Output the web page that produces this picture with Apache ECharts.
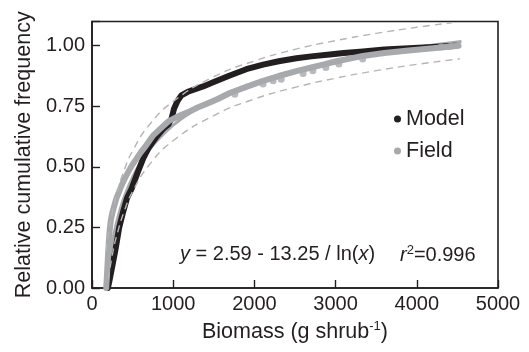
<!DOCTYPE html>
<html>
<head>
<meta charset="utf-8">
<script src="https://cdn.jsdelivr.net/npm/echarts@6/dist/echarts.min.js"></script>
<style>
html,body{margin:0;padding:0;background:#fff;}
#chart{width:529px;height:352px;}
</style>
</head>
<body>
<div id="chart"></div>
<script>
// ---- Data ----
const xTicks = [0, 1000, 2000, 3000, 4000, 5000];
const yTicks = [0, 0.25, 0.5, 0.75, 1.0];

const modelX = [195,215,250,290,335,380,430,488,560,631,700,796,870,940,980,1010,1050,1100,1180,1280,1369,1500,1697,1900,2107,2300,2517,2700,2927,3100,3337,3600,3900,4200,4480];
const modelY = [0,0.03,0.09,0.16,0.25,0.31,0.37,0.41,0.475,0.535,0.58,0.625,0.655,0.675,0.70,0.74,0.77,0.795,0.81,0.822,0.832,0.85,0.877,0.903,0.922,0.936,0.948,0.956,0.964,0.97,0.976,0.984,0.99,0.995,1.0];

const fieldX = [175,182,190,198,207,218,232,250,275,300,324,360,400,440,490,540,600,670,754,850,950,1082,1200,1300,1410,1550,1697,1900,2107,2300,2517,2700,2845,3000,3337,3600,3900,4200,4514];
const fieldY = [0,0.04,0.09,0.14,0.19,0.24,0.28,0.31,0.34,0.37,0.39,0.42,0.45,0.475,0.505,0.53,0.56,0.59,0.63,0.66,0.69,0.712,0.728,0.745,0.76,0.78,0.805,0.83,0.855,0.875,0.895,0.91,0.922,0.935,0.958,0.97,0.98,0.99,1.0];

// scattered field points hanging below the band
const fieldDotX = [1759,2107,2230,2330,2600,2720,2880,3040,3333,4300,4420];
const fieldDotY = [0.80,0.842,0.855,0.862,0.885,0.897,0.91,0.925,0.945,0.995,0.998];

// fitted curve y = 2.59 - 13.25/ln(x)
const fitX = [170,180,190,200,225,250,300,350,400,500,600,700,800,1000,1200,1500,2000,2500,3000,3500,4000,4550];
const fitY = [0.010,0.039,0.065,0.089,0.144,0.190,0.267,0.328,0.379,0.458,0.519,0.567,0.608,0.672,0.721,0.778,0.847,0.897,0.935,0.966,0.993,1.017];

// dashed bounds
const upperX = [175,200,250,300,400,500,700,1000,1500,2000,2500,3000,3500,4000,4430];
const upperY = [0.153,0.214,0.311,0.384,0.490,0.566,0.671,0.770,0.872,0.937,0.985,1.021,1.051,1.076,1.095];
const lowerX = [200,250,300,400,500,700,1000,1500,2000,2500,3000,3500,4000,4530];
const lowerY = [0.036,0.136,0.211,0.320,0.398,0.506,0.608,0.712,0.780,0.828,0.866,0.897,0.923,0.946];

const zip = (xs, ys) => xs.map((x, i) => [x, ys[i]]);

const BLACK = '#231f20';
const GRAY = '#a7a9ac';
const FONT = "'Liberation Sans', Arial, Helvetica, sans-serif";

const chart = echarts.init(document.getElementById('chart'), null, {renderer: 'canvas'});

const option = {
  animation: false,
  textStyle: {fontFamily: FONT, color: BLACK},
  grid: {
    left: 92, right: 31, top: 21.5, bottom: 64,
    show: true, borderColor: BLACK, borderWidth: 1.6, backgroundColor: 'transparent'
  },
  legend: {
    data: ['Model', 'Field'],
    orient: 'vertical',
    left: 389, top: 103,
    icon: 'circle',
    itemWidth: 7, itemHeight: 7,
    itemGap: 10, itemTextGap: 6,
    textStyle: {fontFamily: FONT, fontSize: 21.5, color: BLACK},
    selectedMode: false
  },
  xAxis: {
    type: 'value', min: 0, max: 5000, interval: 1000,
    name: 'Biomass (g shrub{sup|-1})',
    nameLocation: 'middle', nameGap: 32,
    nameTextStyle: {
      fontFamily: FONT, fontSize: 21.5, color: BLACK,
      rich: {
        sup: {fontFamily: FONT, fontSize: 13, color: BLACK, verticalAlign: 'top', lineHeight: 24}
      },
      lineHeight: 24
    },
    axisLine: {lineStyle: {color: BLACK, width: 1.6}},
    axisTick: {inside: true, length: 8, lineStyle: {color: BLACK, width: 1.4}},
    axisLabel: {
      margin: 6, fontFamily: FONT, fontSize: 20, color: BLACK,
      formatter: v => xTicks.includes(v) ? String(v) : ''
    },
    splitLine: {show: false}
  },
  yAxis: {
    type: 'value', min: 0, max: 1.1, interval: 0.25,
    name: 'Relative cumulative frequency',
    nameLocation: 'middle', nameGap: 57,
    nameTextStyle: {fontFamily: FONT, fontSize: 21.5, color: BLACK},
    axisLine: {lineStyle: {color: BLACK, width: 1.6}},
    axisTick: {inside: true, length: 8, lineStyle: {color: BLACK, width: 1.4}},
    axisLabel: {
      margin: 7, fontFamily: FONT, fontSize: 20, color: BLACK,
      formatter: v => yTicks.some(t => Math.abs(t - v) < 1e-6) ? v.toFixed(2) : ''
    },
    splitLine: {show: false}
  },
  series: [
    {
      name: 'fit', type: 'line', data: zip(fitX, fitY), smooth: true,
      showSymbol: false, z: 1,
      lineStyle: {color: GRAY, width: 3}
    },
    {
      name: 'Model', type: 'line', data: zip(modelX, modelY),
      showSymbol: false, z: 2,
      itemStyle: {color: BLACK},
      lineStyle: {color: BLACK, width: 6, cap: 'round', join: 'round'}
    },
    {
      name: 'Field', type: 'line', data: zip(fieldX, fieldY),
      showSymbol: false, z: 3,
      itemStyle: {color: GRAY},
      lineStyle: {color: GRAY, width: 6, cap: 'round', join: 'round'}
    },
    {
      name: 'Field dots', type: 'scatter', data: zip(fieldDotX, fieldDotY),
      symbol: 'circle', symbolSize: 7, z: 3,
      itemStyle: {color: GRAY}
    },
    {
      name: 'upper', type: 'line', data: zip(upperX, upperY), smooth: true,
      showSymbol: false, z: 4,
      lineStyle: {color: '#b5b5b5', width: 1.4, type: [7, 5]}
    },
    {
      name: 'lower', type: 'line', data: zip(lowerX, lowerY), smooth: true,
      showSymbol: false, z: 4,
      lineStyle: {color: '#b5b5b5', width: 1.4, type: [7, 5]}
    }
  ],
  graphic: [
    {
      type: 'text', left: 180, top: 244, z: 10,
      style: {
        text: '{i|y} = 2.59 - 13.25 / ln({i|x})',
        fontFamily: FONT, fontSize: 20, fill: BLACK,
        rich: {
          i: {fontFamily: FONT, fontSize: 20, fontStyle: 'italic', fill: BLACK, color: BLACK}
        }
      }
    },
    {
      type: 'text', left: 400, top: 244, z: 10,
      style: {
        text: '{i|r}{s|2}=0.996',
        fontFamily: FONT, fontSize: 20, fill: BLACK,
        rich: {
          i: {fontFamily: FONT, fontSize: 20, fontStyle: 'italic', fill: BLACK, color: BLACK, lineHeight: 22},
          s: {fontFamily: FONT, fontSize: 13, fill: BLACK, color: BLACK, verticalAlign: 'top', lineHeight: 22}
        }
      }
    }
  ]
};
chart.setOption(option);
</script>
</body>
</html>
